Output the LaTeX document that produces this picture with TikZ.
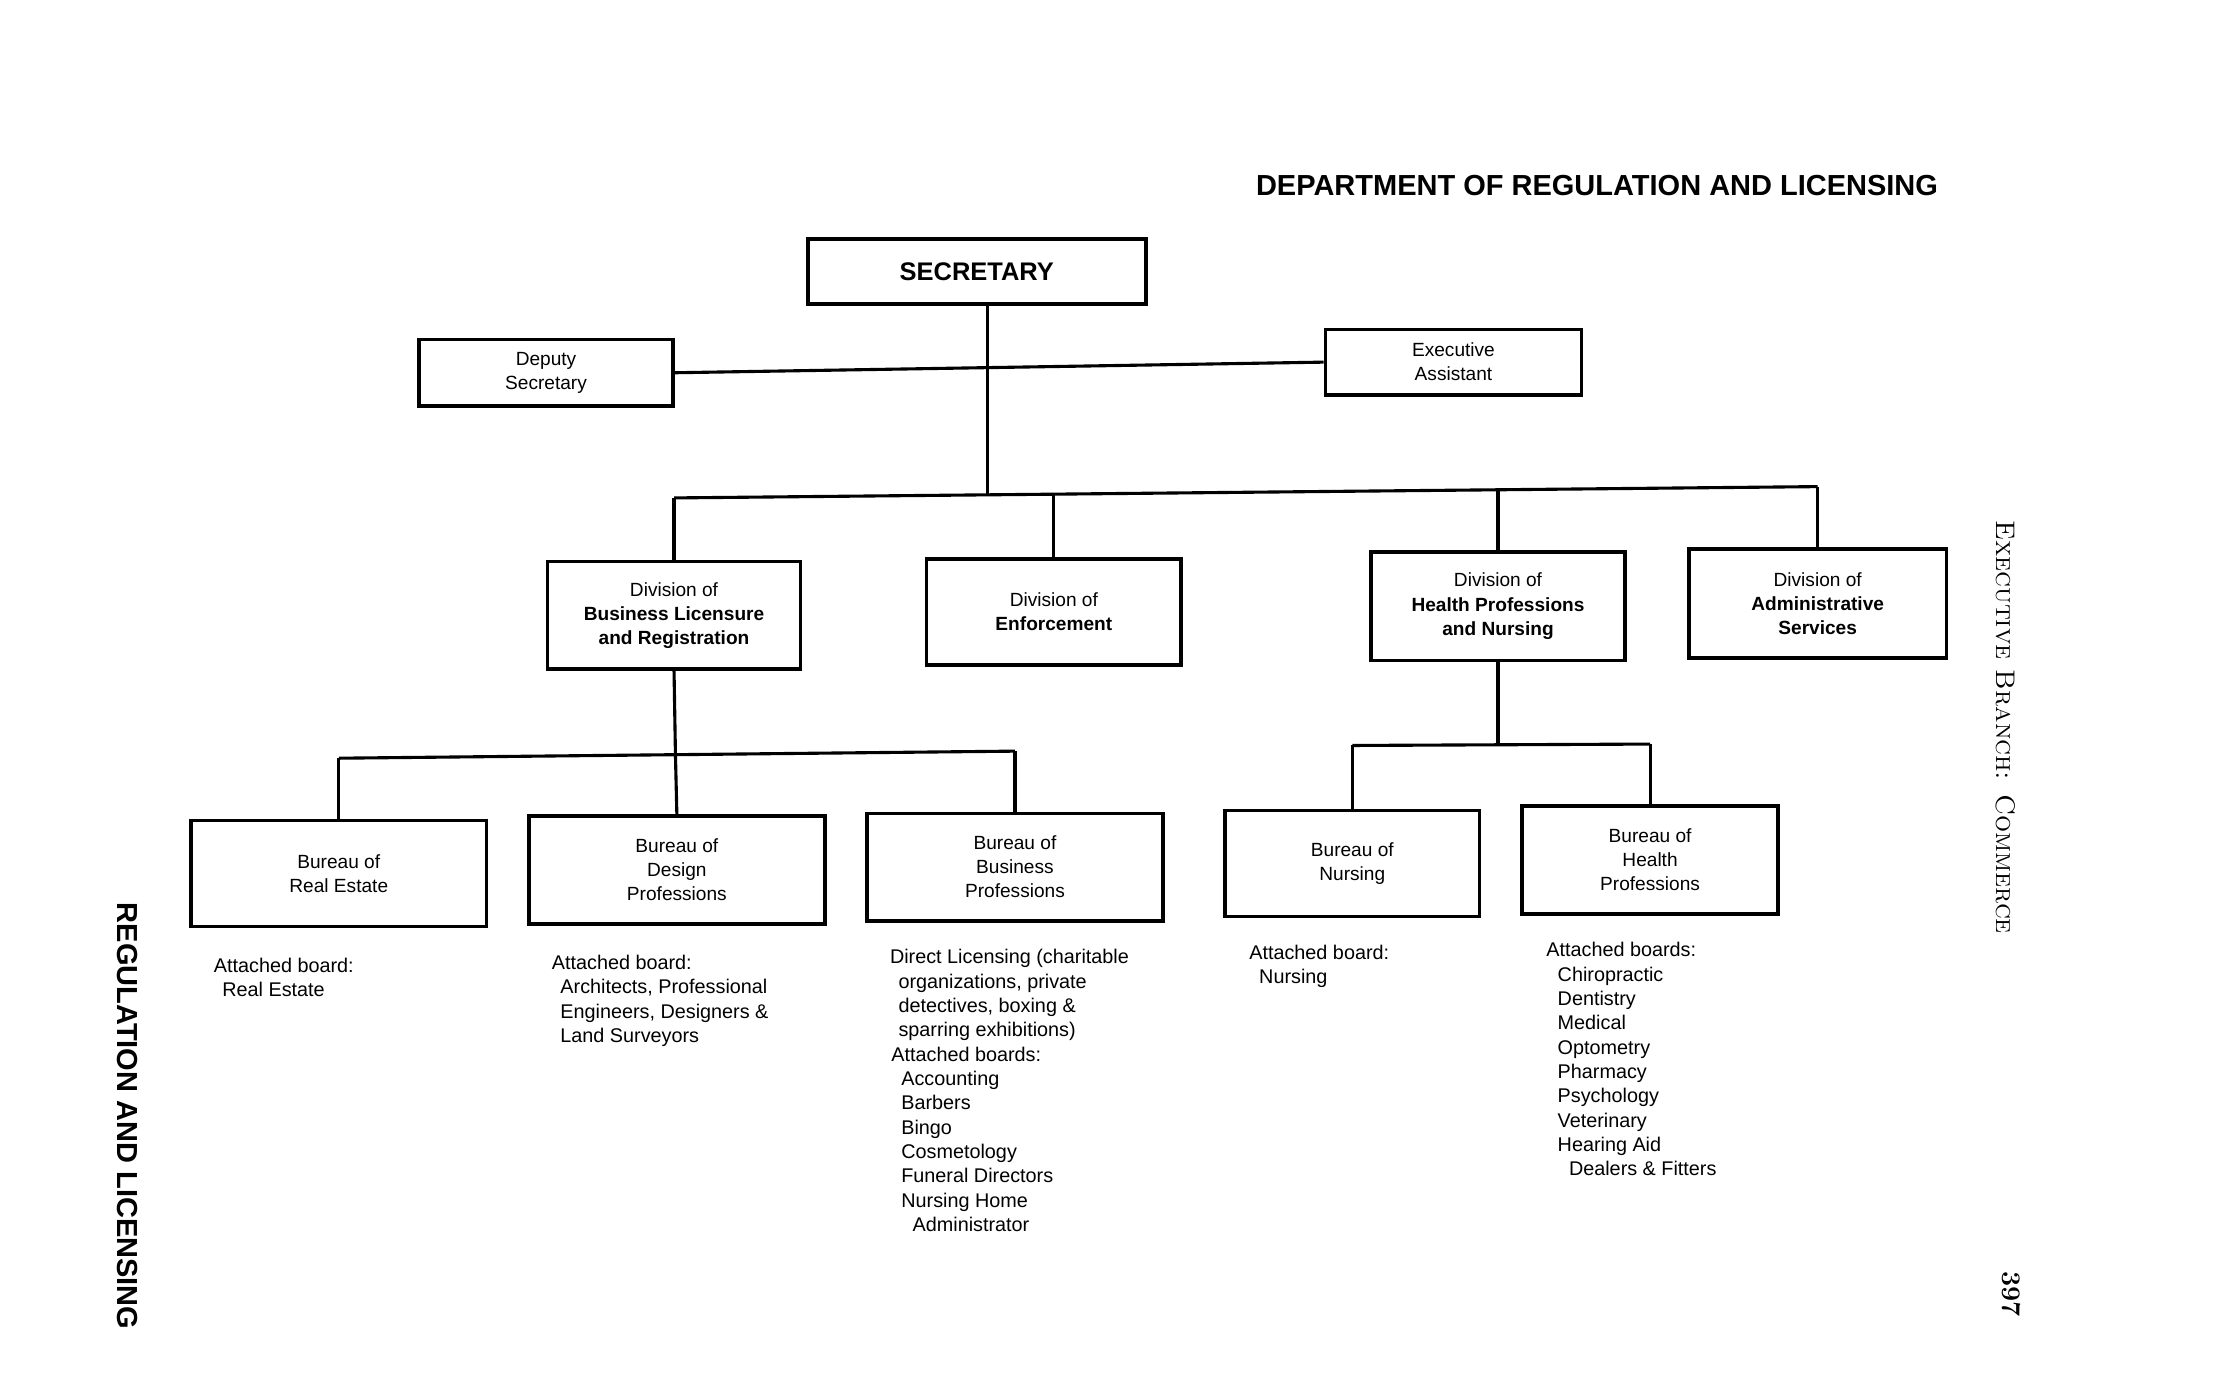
\documentclass[tikz,border=0pt]{standalone}
\usepackage{fontspec}
\newfontfamily\helv{Liberation Sans}
\usetikzlibrary{positioning}
\tikzset{
  unit/.style={draw,line width=2.6pt,inner sep=0pt,align=center,font=\helv\fontsize{13.5}{17}\selectfont},
  conn/.style={line width=2.2pt},
  boards/.style={anchor=north west,inner sep=0pt,align=left,font=\helv\fontsize{14}{17.2}\selectfont}
}
\begin{document}
\begin{tikzpicture}[x=1pt,y=-1pt]
\useasboundingbox (0,0) rectangle (1568,975.6);

\node[] (title) at (1129,131) {\helv\bfseries\fontsize{20.5}{24}\selectfont DEPARTMENT OF REGULATION AND LICENSING};
\node[rotate=-90] (branch) at (1418,514) {\fontsize{19}{20}\selectfont\textsc{Executive Branch: Commerce}};
\node[rotate=-90] (page) at (1422,915) {\fontsize{19}{20}\selectfont\bfseries 397};
\node[rotate=-90] (side) at (90,789) {\helv\bfseries\fontsize{20.5}{24}\selectfont REGULATION AND LICENSING};

\node[unit,minimum width=239pt,minimum height=46pt] (sec) at (690.5,192) {\bfseries\fontsize{18}{20}\selectfont SECRETARY};
\node[unit,minimum width=180pt,minimum height=47pt] (dep) at (386,263.5) {Deputy\\Secretary};
\node[unit,minimum width=181pt,minimum height=46pt] (exa) at (1027.5,256) {Executive\\Assistant};

\node[unit,minimum width=179pt,minimum height=76pt] (dblr) at (476.5,435) {Division of\\\textbf{Business Licensure}\\\textbf{and Registration}};
\node[unit,minimum width=180pt,minimum height=75pt] (denf) at (745,432.5) {Division of\\\textbf{Enforcement}};
\node[unit,minimum width=180pt,minimum height=77pt] (dhpn) at (1059,428.5) {Division of\\\textbf{Health Professions}\\\textbf{and Nursing}};
\node[unit,minimum width=182pt,minimum height=77pt] (dadm) at (1285,426.5) {Division of\\\textbf{Administrative}\\\textbf{Services}};

\node[unit,minimum width=209pt,minimum height=75pt] (bre) at (239.5,617.5) {Bureau of\\Real Estate};
\node[unit,minimum width=209pt,minimum height=76pt] (bdp) at (478.5,615) {Bureau of\\Design\\Professions};
\node[unit,minimum width=209pt,minimum height=76pt] (bbp) at (717.5,613) {Bureau of\\Business\\Professions};
\node[unit,minimum width=180pt,minimum height=75pt] (bnu) at (956,610.5) {Bureau of\\Nursing};
\node[unit,minimum width=181pt,minimum height=76pt] (bhp) at (1166.5,608) {Bureau of\\Health\\Professions};

\coordinate (hub) at (698,349.8);
\coordinate (bus1w) at (476.5,352);
\coordinate (bus1e) at (1285,344);
\coordinate (b1enf) at (745,349.3);
\coordinate (b1hpn) at (1059,346.2);
\coordinate (bus2w) at (239.5,536);
\coordinate (bus2e) at (717.5,531);
\coordinate (b2dp) at (477.5,533.5);
\coordinate (bus3w) at (956,527);
\coordinate (bus3e) at (1166.5,526);
\coordinate (b3hpn) at (1059,526.5);

\draw[conn] (dep.east) -- (exa.west);
\draw[conn] (sec.south -| hub) -- (hub);
\draw[conn] (bus1w) -- (bus1e);
\draw[conn] (dblr.north) -- (bus1w);
\draw[conn] (denf.north) -- (b1enf);
\draw[conn] (dhpn.north) -- (b1hpn);
\draw[conn] (dadm.north) -- (bus1e);
\draw[conn] (dblr.south) -- (b2dp) -- (bdp.north);
\draw[conn] (bus2w) -- (bus2e);
\draw[conn] (bre.north) -- (bus2w);
\draw[conn] (bbp.north) -- (bus2e);
\draw[conn] (dhpn.south) -- (b3hpn);
\draw[conn] (bus3w) -- (bus3e);
\draw[conn] (bnu.north) -- (bus3w);
\draw[conn] (bhp.north) -- (bus3e);

\node[boards] (bre-list) at (151,677) {Attached board:\\\hspace*{6pt}Real Estate};
\node[boards] (bdp-list) at (390,675) {Attached board:\\\hspace*{6pt}Architects, Professional\\\hspace*{6pt}Engineers, Designers \&\\\hspace*{6pt}Land Surveyors};
\node[boards] (bbp-list) at (629,671) {Direct Licensing (charitable\\\hspace*{6pt}organizations, private\\\hspace*{6pt}detectives, boxing \&\\\hspace*{6pt}sparring exhibitions)\\\hspace*{1pt}Attached boards:\\\hspace*{8pt}Accounting\\\hspace*{8pt}Barbers\\\hspace*{8pt}Bingo\\\hspace*{8pt}Cosmetology\\\hspace*{8pt}Funeral Directors\\\hspace*{8pt}Nursing Home\\\hspace*{16pt}Administrator};
\node[boards] (bnu-list) at (883,668) {Attached board:\\\hspace*{7pt}Nursing};
\node[boards] (bhp-list) at (1093,666) {Attached boards:\\\hspace*{8pt}Chiropractic\\\hspace*{8pt}Dentistry\\\hspace*{8pt}Medical\\\hspace*{8pt}Optometry\\\hspace*{8pt}Pharmacy\\\hspace*{8pt}Psychology\\\hspace*{8pt}Veterinary\\\hspace*{8pt}Hearing Aid\\\hspace*{16pt}Dealers \& Fitters};

\end{tikzpicture}
\end{document}
